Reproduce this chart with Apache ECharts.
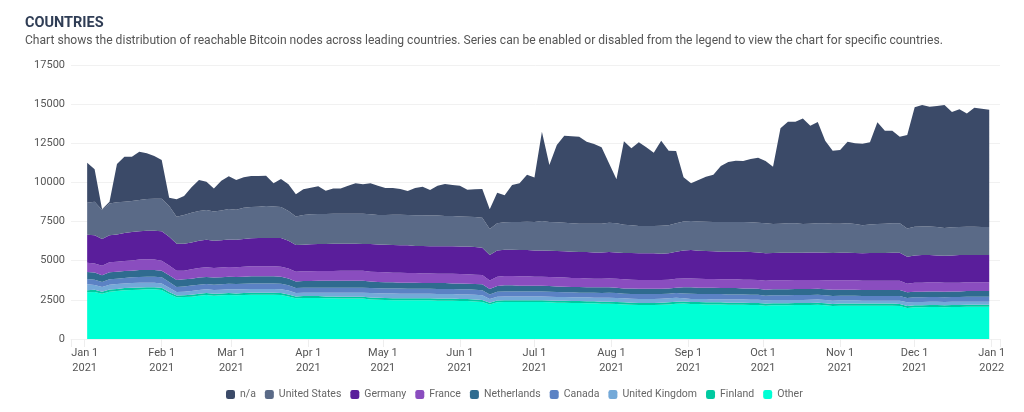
<!DOCTYPE html>
<html>
<head>
<meta charset="utf-8">
<script src="https://cdn.jsdelivr.net/npm/echarts@6/dist/echarts.min.js"></script>
<style>
html, body { margin: 0; padding: 0; background: #fff; }
#chart { width: 1024px; height: 412px; }
</style>
</head>
<body>
<div id="chart"></div>
<script>
// one reading every 3 days, starting Jan 2 2021
var other = [
2980,3000,2890,3020,3060,3110,3130,3150,3170,3170,
3130,2870,2660,2680,2700,2770,2810,2770,2790,2810,
2790,2810,2830,2830,2830,2830,2810,2720,2600,2620,
2620,2620,2600,2600,2580,2580,2580,2580,2530,2500,
2490,2470,2470,2470,2470,2470,2470,2450,2450,2450,
2430,2430,2400,2360,2210,2340,2360,2360,2360,2360,
2360,2360,2340,2320,2320,2300,2300,2280,2280,2250,
2250,2230,2210,2190,2170,2170,2170,2190,2210,2250,
2260,2230,2230,2210,2210,2210,2190,2190,2190,2170,
2170,2130,2150,2150,2150,2170,2170,2170,2190,2150,
2110,2130,2130,2130,2130,2130,2130,2130,2130,2110,
1980,2020,2020,2040,2040,2020,2040,2040,2060,2060,
2060,2060];
var finland = [
140,140,130,140,140,140,140,140,140,140,
140,130,120,120,120,120,120,120,120,120,
120,120,120,120,120,120,120,120,120,120,
120,120,120,120,120,120,120,120,120,130,
130,130,130,130,130,130,130,130,130,130,
130,130,130,130,110,120,120,120,120,120,
120,120,120,120,120,120,120,130,130,130,
130,130,130,130,130,130,130,130,130,130,
130,130,130,130,130,130,130,130,130,130,
130,130,130,130,130,130,130,130,130,130,
130,130,130,130,130,130,130,130,130,130,
120,130,130,130,130,130,130,130,130,130,
130,130];
var uk = [
370,310,300,310,310,300,310,310,290,290,
280,280,220,220,240,240,240,240,240,240,
260,240,240,240,240,240,240,250,220,220,
220,220,240,240,260,260,260,260,290,290,
290,310,290,290,290,290,290,290,290,290,
290,290,300,300,230,240,240,240,240,240,
240,240,240,240,240,240,240,250,230,260,
260,260,260,250,250,250,250,250,260,260,
210,190,190,210,190,190,210,210,210,210,
210,210,210,210,210,190,190,210,210,210,
210,210,210,210,190,190,190,190,190,210,
240,210,210,210,210,210,210,210,190,190,
190,190];
var canada = [
340,340,320,340,340,350,360,360,380,380,
390,360,320,340,350,340,340,340,340,360,
340,360,360,360,360,360,360,340,320,320,
320,320,320,320,320,320,320,320,310,320,
320,320,340,320,320,320,320,320,320,320,
320,320,320,320,300,320,320,320,320,320,
320,320,320,320,300,320,300,300,320,300,
320,320,290,300,320,320,320,300,290,290,
300,340,320,320,340,340,320,320,320,320,
320,300,300,300,300,320,320,300,300,300,
300,300,300,300,300,300,300,300,300,300,
280,300,300,300,300,300,300,300,320,320,
320,320];
var netherlands = [
450,450,430,450,450,440,420,450,430,430,
420,430,450,450,440,450,450,450,450,450,
450,450,450,450,450,450,450,440,420,420,
420,440,440,440,440,440,440,440,430,400,
390,390,370,390,390,360,360,380,380,360,
380,360,360,380,340,360,390,390,360,360,
360,360,360,360,360,340,360,340,340,360,
340,340,340,360,340,340,340,340,340,350,
400,410,410,410,410,390,410,410,380,400,
380,380,380,380,380,380,380,380,380,380,
400,380,380,380,380,380,380,380,380,380,
360,360,360,360,360,360,360,360,360,360,
360,360];
var france = [
590,590,610,640,640,640,660,660,680,660,
640,630,590,550,600,610,620,610,620,620,
620,640,640,640,640,640,640,640,620,620,
620,620,620,620,640,640,640,640,620,640,
640,610,630,610,610,620,620,600,600,620,
600,600,600,600,550,600,590,590,600,600,
580,580,580,580,580,570,570,570,550,550,
570,570,580,560,560,560,560,560,560,570,
570,570,570,550,550,550,550,550,560,560,
560,570,580,580,580,580,580,580,560,580,
600,600,600,600,590,590,590,590,590,590,
550,580,580,580,580,580,560,560,560,560,
560,560];
var germany = [
1790,1790,1710,1720,1740,1790,1810,1810,1830,1850,
1880,1830,1730,1730,1720,1750,1760,1750,1740,1760,
1760,1770,1790,1810,1810,1810,1830,1770,1700,1700,
1730,1730,1730,1750,1730,1730,1730,1710,1760,1760,
1760,1770,1750,1770,1730,1750,1730,1750,1750,1750,
1750,1770,1760,1740,1620,1680,1680,1680,1680,1680,
1680,1680,1680,1680,1680,1690,1660,1680,1680,1680,
1680,1680,1680,1700,1700,1700,1700,1680,1680,1730,
1780,1810,1790,1790,1770,1770,1770,1770,1790,1770,
1760,1750,1740,1760,1760,1740,1740,1760,1760,1760,
1740,1760,1760,1740,1750,1770,1770,1770,1790,1790,
1730,1740,1760,1740,1720,1720,1740,1760,1740,1740,
1740,1740];
var unitedStates = [
2050,2150,1850,2040,2050,2000,1980,2000,2020,2040,
2080,1960,1720,1830,1900,1890,1900,1870,1900,1940,
1920,2000,2000,2000,2040,2020,1980,1890,1830,1900,
1910,1910,1910,1910,1910,1910,1910,1930,1900,1880,
1900,1940,1960,1940,1960,1960,1960,1960,1930,1930,
1930,1910,1920,1920,1660,1730,1750,1770,1790,1810,
1810,1870,1830,1830,1830,1810,1810,1810,1830,1830,
1880,1860,1810,1770,1750,1750,1750,1790,1790,1810,
1860,1850,1870,1870,1870,1890,1890,1890,1890,1890,
1900,1920,1850,1850,1880,1880,1830,1830,1860,1880,
1870,1850,1880,1850,1790,1830,1850,1870,1880,1880,
1790,1830,1830,1830,1810,1770,1790,1790,1810,1810,
1790,1790];
var notAvailable = [
2550,2070,50,110,2450,2870,2830,3080,2920,2730,
2470,530,1110,1210,1620,1980,1810,1470,1910,2090,
1890,1940,1980,1960,1940,1470,1790,1710,1410,1640,
1700,1770,1490,1620,1620,1790,1940,1880,1980,1870,
1720,1700,1640,1530,1740,1830,1640,1910,2050,1980,
1960,1720,1770,1830,1260,1950,1730,2360,2470,3000,
2840,5710,3640,4940,5550,5560,5560,5240,5090,4880,
3790,2810,5330,4920,5340,5020,4680,5420,4770,4620,
2820,2410,2640,2870,3020,3580,3830,3920,3900,4050,
4150,3980,3660,6100,6490,6490,6750,6260,6470,5270,
4670,4710,5210,5160,5210,5240,6500,5940,5910,5530,
5980,7630,7750,7650,7730,7850,7370,7520,7240,7600,
7560,7490];

var legendOrder = ["n/a", "United States", "Germany", "France", "Netherlands", "Canada", "United Kingdom", "Finland", "Other"];
var monthNames = ["Jan","Feb","Mar","Apr","May","Jun","Jul","Aug","Sep","Oct","Nov","Dec"];

var withDates = function (values) {
    var res = [];
    for (var i = 0; i < values.length; i++) {
        res.push([new Date(2021, 0, 2 + i * 3).getTime(), values[i]]);
    }
    return res;
};

var makeArea = function (name, values, color) {
    return {
        name: name,
        type: "line",
        stack: "nodes",
        data: withDates(values),
        showSymbol: false,
        symbol: "none",
        lineStyle: { width: 0 },
        itemStyle: { color: color },
        areaStyle: { color: color, opacity: 1 },
        silent: true
    };
};

var myChart = echarts.init(document.getElementById("chart"), null, { renderer: "canvas" });
var textFont = "Roboto";
var dayMs = 24 * 3600 * 1000;

var option = {
    animation: false,
    backgroundColor: "#fff",
    title: {
        left: 25,
        top: 16,
        text: "COUNTRIES",
        textStyle: { fontFamily: textFont, fontSize: 14.5, fontWeight: "bold", color: "#2f3d55" },
        subtext: "Chart shows the distribution of reachable Bitcoin nodes across leading countries. Series can be enabled or disabled from the legend to view the chart for specific countries.",
        subtextStyle: { fontFamily: textFont, fontSize: 12.1, color: "#555" },
        itemGap: 4,
        padding: 0
    },
    legend: {
        data: legendOrder,
        bottom: 12,
        left: 226,
        padding: 0,
        itemWidth: 9,
        itemHeight: 9,
        itemGap: 9,
        icon: "roundRect",
        selectedMode: false,
        textStyle: { fontFamily: textFont, fontSize: 10.5, color: "#666" }
    },
    grid: { left: 71, right: 24, top: 65, bottom: 73 },
    xAxis: {
        type: "time",
        min: new Date(2020, 11, 26, 12).getTime(),
        max: new Date(2022, 0, 4, 8).getTime(),
        minInterval: 28 * dayMs,
        maxInterval: 31 * dayMs,
        splitNumber: 13,
        axisLine: { show: true, lineStyle: { color: "#f1f1f1" } },
        axisTick: { show: true, length: 8, lineStyle: { color: "#eeeeee" } },
        splitLine: { show: false },
        axisLabel: {
            hideOverlap: false,
            showMinLabel: true,
            showMaxLabel: true,
            margin: 7,
            lineHeight: 15,
            fontFamily: textFont,
            fontSize: 11,
            color: "#555",
            formatter: function (value) {
                var d = new Date(value);
                if (d.getDate() !== 1) return "";
                return monthNames[d.getMonth()] + " 1\n" + d.getFullYear();
            }
        }
    },
    yAxis: {
        type: "value",
        min: 0,
        max: 17500,
        interval: 2500,
        axisLine: { show: false },
        axisTick: { show: false },
        splitLine: { lineStyle: { color: "#f1f1f1" } },
        axisLabel: {
            margin: 6,
            fontFamily: textFont,
            fontSize: 11,
            color: "#555",
            formatter: function (value) { return String(value); }
        }
    },
    series: [
        makeArea("Other", other, "#00ffd5"),
        makeArea("Finland", finland, "#00c9a0"),
        makeArea("United Kingdom", uk, "#74a9d8"),
        makeArea("Canada", canada, "#5b82c4"),
        makeArea("Netherlands", netherlands, "#2f6b8f"),
        makeArea("France", france, "#8a4dbf"),
        makeArea("Germany", germany, "#5a1e9b"),
        makeArea("United States", unitedStates, "#5a6a87"),
        makeArea("n/a", notAvailable, "#3b4a68")
    ]
};
myChart.setOption(option);
</script>
</body>
</html>
